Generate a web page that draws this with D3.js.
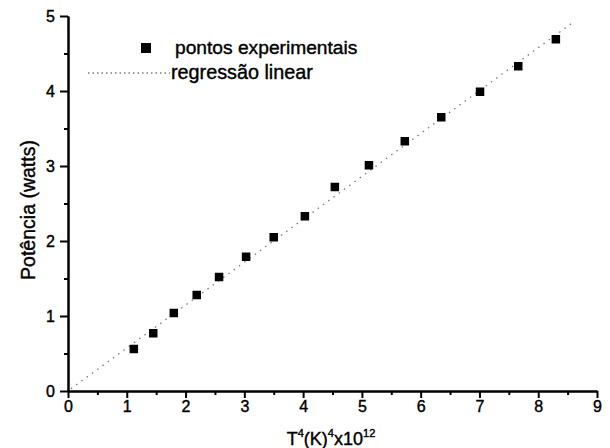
<!DOCTYPE html>
<html><head><meta charset="utf-8">
<script src="https://cdn.jsdelivr.net/npm/d3@7"></script>
<style>
html,body{margin:0;padding:0;background:#fff;}
svg{display:block;font-family:"Liberation Sans",Arial,sans-serif;}
</style></head>
<body>
<svg id="chart" width="610" height="448"></svg>
<script>
// data
const tValues = [1.12, 1.45, 1.80, 2.19, 2.57, 3.03, 3.50, 4.03, 4.54, 5.12, 5.73, 6.35, 7.01, 7.66, 8.30];
const powerValues = [0.56, 0.77, 1.04, 1.28, 1.52, 1.79, 2.05, 2.33, 2.72, 3.01, 3.33, 3.65, 3.99, 4.33, 4.69];
const fitX = [0.05, 8.6];
const fitY = [0.03, 4.92];
const xTicks = [0,1,2,3,4,5,6,7,8,9];
const yTicks = [0,1,2,3,4,5];
const xMinor = [0.5,1.5,2.5,3.5,4.5,5.5,6.5,7.5,8.5];
const yMinor = [0.5,1.5,2.5,3.5,4.5];
const legendLabels = ["pontos experimentais", "regressão linear"];
const xTitleParts = [["T",false],["4",true],["(K)",false],["4",true],["x10",false],["12",true]];
const yTitle = "Potência (watts)";

const svg = d3.select("#chart");
const x = d3.scaleLinear().domain([0,9]).range([68,597]);
const y = d3.scaleLinear().domain([0,5]).range([391,16]);

// regression line
svg.append("line")
  .attr("x1", x(fitX[0])).attr("y1", y(fitY[0]))
  .attr("x2", x(fitX[1])).attr("y2", y(fitY[1]))
  .attr("stroke", "#7a7a7a").attr("stroke-width", 1.3)
  .attr("stroke-dasharray", "1.5,5");

// points
const sz = 8.5;
svg.append("g").selectAll("rect").data(tValues).join("rect")
  .attr("x", (d,i) => x(d) - sz/2)
  .attr("y", (d,i) => y(powerValues[i]) - sz/2)
  .attr("width", sz).attr("height", sz).attr("fill", "#000");

// axes
const fs = 16;
const xAxis = svg.append("g").attr("transform", `translate(0,${y(0)})`)
  .call(d3.axisBottom(x).tickValues(xTicks).tickFormat(d3.format("d")).tickSize(7).tickSizeOuter(0).tickPadding(3));
const xAxisMinor = svg.append("g").attr("transform", `translate(0,${y(0)})`)
  .call(d3.axisBottom(x).tickValues(xMinor).tickFormat("").tickSize(4).tickSizeOuter(0));
const yAxis = svg.append("g").attr("transform", `translate(${x(0)},0)`)
  .call(d3.axisLeft(y).tickValues(yTicks).tickFormat(d3.format("d")).tickSize(8).tickSizeOuter(0).tickPadding(5));
const yAxisMinor = svg.append("g").attr("transform", `translate(${x(0)},0)`)
  .call(d3.axisLeft(y).tickValues(yMinor).tickFormat("").tickSize(4).tickSizeOuter(0));

[xAxis, xAxisMinor, yAxis, yAxisMinor].forEach(g => {
  g.select(".domain").attr("stroke", "#000").attr("stroke-width", 2);
  g.selectAll(".tick line").attr("stroke", "#000").attr("stroke-width", 2);
  g.selectAll("text").attr("fill", "#000").attr("font-size", fs)
   .attr("stroke", "#000").attr("stroke-width", 0.4)
   .attr("font-family", "Liberation Sans, Arial, sans-serif");
});
yAxis.selectAll("text").attr("dy", "0.36em");

const heavy = sel => sel.attr("fill", "#000").attr("stroke", "#000").attr("stroke-width", 0.4);

// axis titles
const xt = svg.append("text").attr("x", 331).attr("y", 445).attr("text-anchor", "middle")
  .attr("font-size", 18).call(heavy);
xTitleParts.forEach(([s, sup]) => {
  xt.append("tspan").text(s)
    .attr("font-size", sup ? 11 : 18)
    .attr("dy", sup ? -8 : null);
});
// reset baseline after superscripts
xt.selectAll("tspan").each(function(d, i) {
  const sup = xTitleParts[i][1];
  const prevSup = i > 0 && xTitleParts[i-1][1];
  let dy = 0;
  if (sup && !prevSup) dy = -8;
  if (!sup && prevSup) dy = 8;
  d3.select(this).attr("dy", dy || null);
});

svg.append("text").attr("transform", "translate(35,210) rotate(-90)")
  .attr("text-anchor", "middle").attr("font-size", 19.5).call(heavy).text(yTitle);

// legend
const lg = svg.append("g");
lg.append("rect").attr("x", 141).attr("y", 43).attr("width", 10).attr("height", 10).attr("fill", "#000");
lg.append("text").attr("x", 175).attr("y", 54).attr("font-size", 19.2).call(heavy).text(legendLabels[0]);
lg.append("line").attr("x1", 88).attr("x2", 170).attr("y1", 73).attr("y2", 73)
  .attr("stroke", "#7a7a7a").attr("stroke-width", 1.3).attr("stroke-dasharray", "1.5,3");
lg.append("text").attr("x", 171).attr("y", 79).attr("font-size", 19.8).call(heavy).text(legendLabels[1]);
</script>
</body></html>
